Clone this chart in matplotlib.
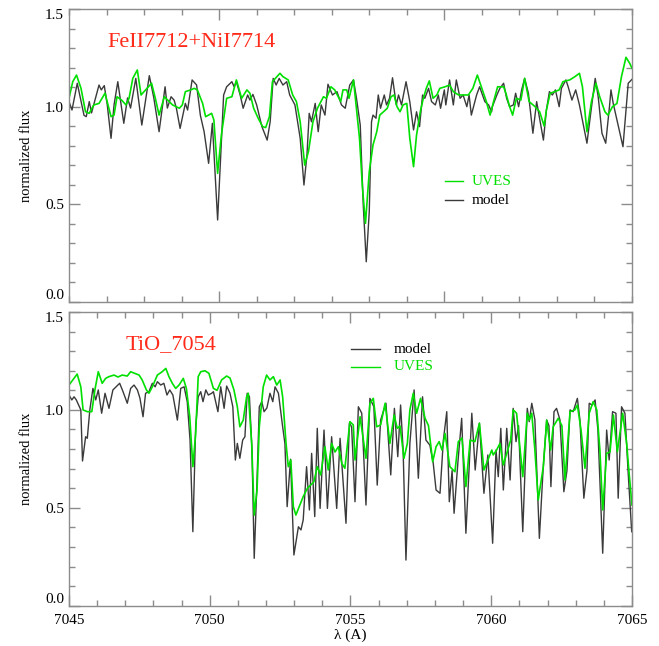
import matplotlib
matplotlib.use("Agg")
import matplotlib.pyplot as plt
from matplotlib.ticker import MultipleLocator, FixedLocator

plt.rcParams['font.family'] = ['Liberation Serif', 'DejaVu Serif']

# ---------------- top panel data (FeII7712 + NiI7714) ----------------
top_model_wl = [7710.00, 7710.04, 7710.11, 7710.20, 7710.23, 7710.27, 7710.30, 7710.40, 7710.43, 7710.47,
                7710.51, 7710.56, 7710.60, 7710.65, 7710.73, 7710.78, 7710.82, 7710.89, 7710.97, 7711.07,
                7711.13, 7711.20, 7711.28, 7711.31, 7711.36, 7711.40, 7711.43, 7711.48, 7711.55, 7711.58,
                7711.64, 7711.70, 7711.75, 7711.80, 7711.86, 7711.91, 7711.98, 7712.06, 7712.10, 7712.17,
                7712.20, 7712.23, 7712.28, 7712.32, 7712.38, 7712.41, 7712.45, 7712.50, 7712.57, 7712.64,
                7712.68, 7712.72, 7712.76, 7712.80, 7712.85, 7712.90, 7712.94, 7713.01, 7713.08, 7713.13,
                7713.17, 7713.20, 7713.23, 7713.28, 7713.32, 7713.36, 7713.41, 7713.45, 7713.51, 7713.57,
                7713.63, 7713.68, 7713.74, 7713.79, 7713.83, 7713.88, 7713.92, 7713.96, 7714.00, 7714.03,
                7714.05, 7714.09, 7714.12, 7714.15, 7714.20, 7714.23, 7714.27, 7714.31, 7714.36, 7714.39,
                7714.43, 7714.49, 7714.54, 7714.59, 7714.63, 7714.67, 7714.71, 7714.74, 7714.79, 7714.83,
                7714.88, 7714.92, 7714.95, 7715.00, 7715.02, 7715.07, 7715.12, 7715.16, 7715.21, 7715.25,
                7715.30, 7715.33, 7715.36, 7715.43, 7715.47, 7715.54, 7715.59, 7715.63, 7715.64, 7715.70,
                7715.74, 7715.79, 7715.83, 7715.87, 7715.92, 7715.95, 7715.99, 7716.03, 7716.07, 7716.12,
                7716.18, 7716.23, 7716.32, 7716.36, 7716.40, 7716.44, 7716.48, 7716.53, 7716.56, 7716.62,
                7716.65, 7716.70, 7716.75, 7716.80, 7716.90, 7716.95, 7717.01, 7717.05, 7717.10, 7717.15,
                7717.20, 7717.22, 7717.25, 7717.30, 7717.38, 7717.41, 7717.45, 7717.50]
top_model_fl = [1.026, 0.983, 1.120, 0.956, 0.949, 1.026, 0.968, 1.111, 1.086, 1.108,
                1.009, 0.838, 1.009, 1.128, 0.915, 1.045, 0.993, 1.145, 0.906, 1.159,
                1.045, 0.872, 1.102, 0.993, 1.051, 1.034, 0.993, 0.889, 1.017, 0.983,
                1.137, 1.111, 0.956, 0.872, 0.710, 0.915, 0.420, 1.060, 1.102, 1.128,
                1.102, 1.128, 1.060, 0.992, 1.060, 1.034, 1.063, 1.009, 0.898, 0.829,
                0.923, 1.145, 1.111, 1.145, 1.111, 1.128, 1.060, 1.009, 0.838, 0.599,
                0.753, 0.966, 0.923, 1.017, 0.872, 1.009, 0.957, 1.115, 1.060, 1.077,
                1.009, 0.992, 1.111, 1.137, 1.043, 0.906, 0.497, 0.206, 0.462, 0.923,
                0.957, 0.941, 1.060, 0.992, 1.060, 1.009, 1.043, 1.148, 1.009, 1.060,
                1.009, 1.128, 1.026, 0.881, 0.974, 0.898, 1.060, 1.043, 1.094, 1.026,
                1.009, 1.060, 0.992, 1.086, 1.009, 1.137, 1.009, 1.137, 1.043, 1.060,
                1.000, 1.060, 0.957, 1.060, 1.102, 1.026, 1.009, 0.974, 1.000, 1.060,
                1.094, 1.120, 1.043, 1.000, 1.009, 1.069, 1.000, 1.086, 1.145, 1.069,
                0.864, 1.026, 0.829, 0.983, 1.077, 1.060, 1.086, 1.000, 1.094, 1.137,
                1.102, 1.034, 1.086, 1.009, 0.813, 0.966, 1.145, 1.051, 0.864, 0.813,
                1.000, 1.086, 1.017, 0.932, 0.795, 0.932, 1.120, 1.140]

top_uves_wl = [7710.00, 7710.05, 7710.10, 7710.16, 7710.22, 7710.27, 7710.33, 7710.40, 7710.44, 7710.48,
               7710.56, 7710.60, 7710.64, 7710.70, 7710.76, 7710.80, 7710.85, 7710.91, 7710.96, 7711.04,
               7711.10, 7711.15, 7711.20, 7711.27, 7711.38, 7711.47, 7711.51, 7711.55, 7711.62, 7711.67,
               7711.71, 7711.78, 7711.82, 7711.86, 7711.90, 7711.93, 7711.98, 7712.03, 7712.10, 7712.17,
               7712.23, 7712.30, 7712.37, 7712.41, 7712.46, 7712.52, 7712.58, 7712.62, 7712.67, 7712.71,
               7712.77, 7712.81, 7712.85, 7712.92, 7712.98, 7713.03, 7713.08, 7713.14, 7713.19, 7713.25,
               7713.31, 7713.39, 7713.43, 7713.49, 7713.54, 7713.62, 7713.65, 7713.70, 7713.73, 7713.79,
               7713.87, 7713.91, 7713.95, 7714.00, 7714.05, 7714.10, 7714.14, 7714.19, 7714.24, 7714.29,
               7714.33, 7714.37, 7714.41, 7714.45, 7714.50, 7714.54, 7714.59, 7714.63, 7714.68, 7714.72,
               7714.76, 7714.80, 7714.85, 7714.90, 7714.94, 7715.01, 7715.07, 7715.12, 7715.19, 7715.32,
               7715.38, 7715.44, 7715.50, 7715.56, 7715.61, 7715.65, 7715.71, 7715.79, 7715.82, 7715.87,
               7715.91, 7715.96, 7716.02, 7716.07, 7716.13, 7716.21, 7716.27, 7716.33, 7716.36, 7716.41,
               7716.47, 7716.53, 7716.58, 7716.67, 7716.74, 7716.80, 7716.84, 7716.90, 7716.96, 7717.02,
               7717.07, 7717.14, 7717.18, 7717.24, 7717.30, 7717.36, 7717.42, 7717.47, 7717.50]
top_uves_fl = [1.043, 1.128, 1.162, 1.094, 0.974, 0.966, 1.009, 1.017, 1.043, 1.069,
               0.949, 0.957, 1.051, 1.034, 1.009, 1.043, 1.145, 1.188, 1.060, 1.094,
               1.120, 1.043, 0.957, 1.051, 1.009, 0.992, 1.009, 1.077, 1.086, 1.094,
               1.086, 1.017, 0.949, 0.957, 0.966, 0.932, 0.659, 0.855, 1.043, 1.051,
               1.137, 1.043, 1.086, 1.069, 0.992, 0.941, 0.898, 0.893, 0.949, 1.128,
               1.154, 1.171, 1.154, 1.137, 1.060, 1.026, 0.923, 0.701, 0.770, 0.923,
               0.992, 1.051, 1.043, 1.102, 1.086, 1.026, 1.086, 1.086, 1.043, 1.137,
               0.838, 0.582, 0.403, 0.667, 0.804, 0.872, 0.957, 0.974, 0.992, 1.051,
               1.060, 1.000, 0.974, 1.009, 1.017, 0.838, 0.693, 0.855, 0.974, 1.043,
               1.094, 1.132, 1.043, 1.060, 1.094, 1.102, 1.111, 1.077, 1.060, 1.060,
               1.094, 1.162, 1.094, 1.026, 0.957, 1.017, 1.102, 1.102, 1.069, 1.000,
               0.957, 1.043, 1.034, 1.145, 1.026, 1.000, 0.974, 0.901, 0.983, 1.069,
               1.077, 1.086, 1.128, 1.137, 1.154, 1.171, 1.102, 0.872, 1.026, 1.120,
               1.051, 0.974, 0.957, 1.000, 1.017, 1.154, 1.253, 1.222, 1.197]

# ---------------- bottom panel data (TiO 7054) ----------------
bot_model_wl = [7045.00, 7045.10, 7045.18, 7045.26, 7045.42, 7045.48, 7045.59, 7045.65, 7045.74, 7045.85,
                7045.95, 7046.04, 7046.16, 7046.28, 7046.42, 7046.56, 7046.80, 7046.92, 7047.07, 7047.19,
                7047.31, 7047.43, 7047.52, 7047.63, 7047.72, 7047.84, 7047.96, 7048.06, 7048.14, 7048.26,
                7048.37, 7048.48, 7048.58, 7048.69, 7048.85, 7048.97, 7049.09, 7049.20, 7049.30, 7049.40,
                7049.50, 7049.59, 7049.68, 7049.76, 7049.86, 7049.95, 7050.07, 7050.13, 7050.29, 7050.39,
                7050.51, 7050.60, 7050.72, 7050.82, 7050.91, 7050.98, 7051.07, 7051.17, 7051.25, 7051.33,
                7051.41, 7051.50, 7051.58, 7051.68, 7051.76, 7051.85, 7051.93, 7052.03, 7052.14, 7052.24,
                7052.32, 7052.44, 7052.59, 7052.67, 7052.75, 7052.87, 7052.99, 7053.15, 7053.24, 7053.32,
                7053.44, 7053.54, 7053.62, 7053.73, 7053.82, 7053.92, 7054.06, 7054.18, 7054.33, 7054.51,
                7054.63, 7054.84, 7054.96, 7055.04, 7055.16, 7055.28, 7055.40, 7055.55, 7055.69, 7055.83,
                7055.95, 7056.07, 7056.26, 7056.43, 7056.56, 7056.68, 7056.78, 7056.87, 7056.97, 7057.11,
                7057.26, 7057.41, 7057.56, 7057.68, 7057.82, 7057.94, 7058.04, 7058.18, 7058.30, 7058.42,
                7058.51, 7058.61, 7058.68, 7058.82, 7058.95, 7059.10, 7059.31, 7059.43, 7059.58, 7059.74,
                7059.88, 7060.05, 7060.17, 7060.25, 7060.34, 7060.43, 7060.55, 7060.67, 7060.78, 7060.88,
                7060.97, 7061.12, 7061.28, 7061.35, 7061.44, 7061.55, 7061.71, 7061.84, 7061.97, 7062.05,
                7062.12, 7062.23, 7062.32, 7062.44, 7062.58, 7062.69, 7062.80, 7062.91, 7063.06, 7063.15,
                7063.29, 7063.40, 7063.48, 7063.58, 7063.69, 7063.79, 7063.96, 7064.10, 7064.19, 7064.31,
                7064.43, 7064.51, 7064.63, 7064.75, 7064.86, 7064.99]
bot_model_fl = [1.076, 1.051, 1.067, 1.051, 1.000, 0.739, 0.863, 0.855, 1.000, 1.110,
                1.051, 1.102, 0.983, 1.085, 1.008, 1.102, 1.136, 1.093, 1.034, 1.110,
                1.127, 1.102, 1.060, 0.965, 1.085, 1.093, 1.136, 1.118, 1.144, 1.127,
                1.136, 1.076, 1.102, 1.076, 0.948, 1.110, 1.118, 1.042, 0.846, 0.378,
                0.914, 1.067, 1.093, 1.042, 1.102, 1.076, 1.085, 1.093, 0.991, 1.118,
                1.008, 1.122, 1.085, 1.016, 0.744, 0.829, 0.753, 0.846, 0.863, 1.085,
                1.067, 0.795, 0.242, 0.642, 1.016, 1.042, 0.991, 1.010, 1.085, 1.042,
                1.118, 1.085, 0.914, 0.829, 0.506, 0.748, 0.259, 0.403, 0.387, 0.438,
                0.710, 0.489, 0.778, 0.455, 0.906, 0.497, 0.897, 0.497, 0.863, 0.497,
                0.855, 0.421, 0.932, 0.914, 0.531, 1.016, 0.983, 0.514, 1.059, 1.016,
                0.616, 0.948, 1.034, 0.668, 1.008, 0.761, 1.025, 0.795, 0.233, 0.829,
                1.102, 0.651, 1.067, 0.846, 0.820, 0.727, 0.591, 0.574, 0.846, 0.991,
                0.531, 0.690, 0.472, 0.740, 0.957, 0.370, 0.983, 0.693, 0.932, 0.574,
                0.770, 0.319, 0.795, 0.659, 0.906, 0.591, 0.906, 0.642, 1.008, 0.838,
                0.920, 0.378, 1.008, 0.940, 1.034, 0.950, 0.344, 0.690, 0.948, 0.920,
                0.608, 0.991, 1.008, 0.950, 0.582, 0.690, 1.000, 0.991, 1.059, 0.950,
                0.549, 0.690, 1.034, 1.025, 1.051, 0.897, 0.268, 0.897, 0.744, 0.991,
                0.983, 0.549, 1.016, 0.983, 0.690, 0.378]

bot_uves_wl = [7045.00, 7045.29, 7045.42, 7045.50, 7045.65, 7045.81, 7045.92, 7046.04, 7046.18, 7046.30,
               7046.42, 7046.60, 7046.74, 7046.89, 7047.07, 7047.19, 7047.49, 7047.60, 7047.75, 7047.84,
               7047.96, 7048.14, 7048.31, 7048.44, 7048.55, 7048.67, 7048.79, 7048.91, 7049.06, 7049.17,
               7049.29, 7049.40, 7049.50, 7049.59, 7049.68, 7049.83, 7049.97, 7050.13, 7050.26, 7050.42,
               7050.60, 7050.72, 7050.86, 7050.98, 7051.07, 7051.19, 7051.31, 7051.37, 7051.49, 7051.58,
               7051.68, 7051.76, 7051.90, 7052.02, 7052.14, 7052.26, 7052.38, 7052.50, 7052.59, 7052.71,
               7052.79, 7052.88, 7052.97, 7053.06, 7053.18, 7053.32, 7053.47, 7053.58, 7053.70, 7053.82,
               7053.94, 7054.09, 7054.21, 7054.33, 7054.45, 7054.57, 7054.69, 7054.80, 7054.98, 7055.10,
               7055.16, 7055.34, 7055.55, 7055.69, 7055.81, 7055.93, 7056.07, 7056.23, 7056.40, 7056.55,
               7056.66, 7056.76, 7056.90, 7057.02, 7057.11, 7057.23, 7057.35, 7057.49, 7057.65, 7057.77,
               7057.92, 7058.04, 7058.15, 7058.25, 7058.36, 7058.53, 7058.71, 7058.83, 7058.96, 7059.10,
               7059.25, 7059.42, 7059.58, 7059.74, 7059.88, 7060.02, 7060.07, 7060.19, 7060.31, 7060.43,
               7060.55, 7060.69, 7060.78, 7060.90, 7061.12, 7061.28, 7061.35, 7061.44, 7061.55, 7061.67,
               7061.85, 7061.97, 7062.11, 7062.20, 7062.38, 7062.51, 7062.62, 7062.80, 7062.97, 7063.06,
               7063.19, 7063.33, 7063.48, 7063.62, 7063.75, 7063.86, 7063.96, 7064.10, 7064.22, 7064.34,
               7064.48, 7064.67, 7064.81, 7064.89, 7065.00]
bot_uves_fl = [1.127, 1.183, 1.118, 1.000, 0.991, 0.991, 1.102, 1.195, 1.136, 1.161,
               1.170, 1.178, 1.168, 1.178, 1.173, 1.195, 1.178, 1.153, 1.102, 1.085,
               1.118, 1.178, 1.195, 1.212, 1.170, 1.136, 1.110, 1.127, 1.161, 1.110,
               0.965, 0.710, 0.880, 1.170, 1.195, 1.200, 1.187, 1.110, 1.100, 1.153,
               1.173, 1.163, 1.102, 1.016, 0.914, 0.948, 1.067, 1.085, 0.829, 0.463,
               0.590, 0.914, 1.118, 1.178, 1.153, 1.170, 1.127, 1.153, 1.067, 0.829,
               0.710, 0.744, 0.506, 0.463, 0.506, 0.557, 0.600, 0.616, 0.633, 0.710,
               0.668, 0.812, 0.693, 0.829, 0.785, 0.812, 0.727, 0.702, 0.940, 0.923,
               0.744, 0.965, 0.753, 1.034, 1.059, 0.914, 0.923, 1.034, 0.829, 0.974,
               0.906, 0.918, 0.753, 0.829, 1.000, 1.085, 0.983, 1.059, 0.957, 0.920,
               0.735, 0.812, 0.838, 0.795, 0.880, 0.710, 0.684, 0.838, 0.856, 0.608,
               0.846, 0.838, 0.932, 0.693, 0.744, 0.795, 0.770, 0.795, 0.829, 0.719,
               0.778, 0.846, 1.000, 0.983, 0.659, 0.983, 0.948, 0.983, 0.795, 0.540,
               0.710, 0.948, 0.795, 0.914, 0.957, 0.920, 0.642, 0.991, 1.000, 1.025,
               0.897, 0.702, 0.983, 1.042, 1.000, 0.795, 0.489, 0.778, 0.785, 0.974,
               0.786, 0.983, 0.829, 0.690, 0.514]

top_title = "FeII7712+NiI7714"
bot_title = "TiO_7054"
y_ticks = [0.0, 0.5, 1.0, 1.5]
bot_x_ticks = [7045, 7050, 7055, 7060, 7065]

MODEL_C = '#3a3a3a'
UVES_C = '#00e000'
FRAME_C = '#8c8c8c'

fig = plt.figure(figsize=(6.59, 6.46), dpi=100)
ax1 = fig.add_axes([0.1047, 0.5325, 0.8543, 0.4535])
ax2 = fig.add_axes([0.1047, 0.0624, 0.8543, 0.4546])


def style(ax):
    for s in ax.spines.values():
        s.set_color(FRAME_C)
        s.set_linewidth(1.0)
    ax.tick_params(which='both', direction='in', top=True, right=True,
                   color=FRAME_C, labelsize=11, labelcolor='black')
    ax.tick_params(which='major', length=8, width=1.0)
    ax.tick_params(which='minor', length=4, width=1.0)
    ax.set_ylim(0.0, 1.5)
    ax.yaxis.set_major_locator(FixedLocator(y_ticks))
    ax.yaxis.set_minor_locator(MultipleLocator(0.1))
    ax.set_yticklabels([f"{v:.1f}" for v in y_ticks])
    labels = ax.get_yticklabels()
    labels[0].set_va('bottom')   # 0.0 sits just above the bottom edge
    labels[-1].set_va('top')     # 1.5 sits just below the top edge
    ax.set_ylabel("normalized flux", fontsize=10.5)
    ax.yaxis.set_label_coords(-0.064, 0.5)


# top panel
ax1.plot(top_model_wl, top_model_fl, color=MODEL_C, lw=1.0)
ax1.plot(top_uves_wl, top_uves_fl, color=UVES_C, lw=1.2)
ax1.set_xlim(7710.0, 7717.5)
style(ax1)
ax1.xaxis.set_major_locator(FixedLocator([7712, 7715]))
ax1.xaxis.set_minor_locator(MultipleLocator(0.5))
ax1.tick_params(axis='x', labelbottom=False)
ax1.text(0.0675, 0.887, top_title, transform=ax1.transAxes, color='#ff2a1a',
         fontsize=16, va='center', ha='left')
ax1.plot([0.668, 0.700], [0.413, 0.413], transform=ax1.transAxes, color=UVES_C, lw=1.0)
ax1.text(0.716, 0.413, "UVES", transform=ax1.transAxes, color=UVES_C, fontsize=11, va='center')
ax1.plot([0.668, 0.700], [0.348, 0.348], transform=ax1.transAxes, color=MODEL_C, lw=1.0)
ax1.text(0.716, 0.348, "model", transform=ax1.transAxes, color='black', fontsize=11, va='center')

# bottom panel
ax2.plot(bot_model_wl, bot_model_fl, color=MODEL_C, lw=1.0)
ax2.plot(bot_uves_wl, bot_uves_fl, color=UVES_C, lw=1.2)
ax2.set_xlim(7045, 7065)
style(ax2)
ax2.xaxis.set_major_locator(FixedLocator(bot_x_ticks))
ax2.xaxis.set_minor_locator(MultipleLocator(1))
ax2.set_xticklabels([str(v) for v in bot_x_ticks])
ax2.tick_params(axis='x', pad=6)
ax2.set_xlabel("λ (A)", fontsize=11, labelpad=1)
ax2.text(0.101, 0.888, bot_title, transform=ax2.transAxes, color='#ff2a1a',
         fontsize=16, va='center', ha='left')
ax2.plot([0.501, 0.552], [0.874, 0.874], transform=ax2.transAxes, color=MODEL_C, lw=1.0)
ax2.text(0.577, 0.874, "model", transform=ax2.transAxes, color='black', fontsize=11, va='center')
ax2.plot([0.501, 0.552], [0.813, 0.813], transform=ax2.transAxes, color=UVES_C, lw=1.0)
ax2.text(0.577, 0.813, "UVES", transform=ax2.transAxes, color=UVES_C, fontsize=11, va='center')

fig.savefig("out.png", dpi=100)
